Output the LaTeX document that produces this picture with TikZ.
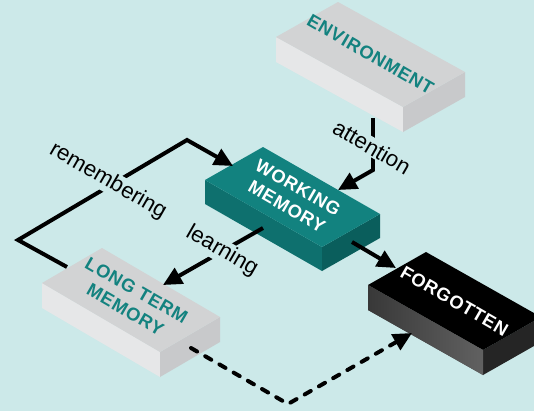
\documentclass[tikz,border=0pt]{standalone}
\usepackage{fontspec}
\setmainfont{Liberation Sans}
\newfontfamily\boxfont[LetterSpace=4]{Liberation Sans}
\usetikzlibrary{calc,arrows.meta}
\definecolor{bg}{HTML}{CCE9E9}
\definecolor{tealtext}{HTML}{13827F}
\definecolor{greytop}{HTML}{D2D3D4}
\definecolor{greyleft}{HTML}{E6E7E8}
\definecolor{greyright}{HTML}{C8C9CB}
\definecolor{wmtop}{HTML}{12827F}
\definecolor{wmleft}{HTML}{0E706E}
\definecolor{wmright}{HTML}{0A5E5C}
\definecolor{fgtop}{HTML}{000000}
\definecolor{fgleft}{HTML}{4A4A4C}
\definecolor{fgright}{HTML}{252525}
\begin{document}
\begin{tikzpicture}[x=0.03cm,y=-0.03cm,
    flow/.style={line width=3.4pt,-{Triangle[length=16pt,width=15pt]}},
    dashflow/.style={flow,line cap=round,dash pattern=on 6pt off 8pt},
    toplabel/.style={rotate=-30,align=center,
      font=\fontsize{15.6}{19}\boxfont\bfseries},
    sidelabel/.style={rotate=-30,fill=bg,inner sep=1pt,
      font=\fontsize{19}{22}\selectfont}]
  \useasboundingbox (0,0) rectangle (534,411);
  \clip (0,0) rectangle (534,411);
  \fill[bg] (0,0) rectangle (534,411);
  \foreach \nm/\p/\a/\b/\h/\ct/\cl/\cr in {
    env/{276,37}/{127,70}/{62,-35}/25/greytop/greyleft/greyright,
    wm/{205,180}/{117,67}/{58,-33}/24/wmtop/wmleft/wmright,
    ltm/{42,283}/{118,69}/{60,-35}/25/greytop/greyleft/greyright,
    fg/{368,285}/{115,65}/{58,-33}/25/fgtop/fgleft/fgright}{
    \coordinate (\nm-l) at (\p);
    \coordinate (\nm-f) at ($(\nm-l)+(\a)$);
    \coordinate (\nm-t) at ($(\nm-l)+(\b)$);
    \coordinate (\nm-r) at ($(\nm-f)+(\b)$);
    \coordinate (\nm-c) at ($(\nm-l)!0.5!(\nm-r)$);
    \fill[\cl] (\nm-l) -- (\nm-f) -- ++(0,\h) -- ($(\nm-l)+(0,\h)$) -- cycle;
    \fill[\cr] (\nm-f) -- (\nm-r) -- ++(0,\h) -- ($(\nm-f)+(0,\h)$) -- cycle;
    \fill[\ct] (\nm-l) -- (\nm-t) -- (\nm-r) -- (\nm-f) -- cycle;
  }
  \shade[left color=black!78,right color=black!62]
    (fg-l) -- (fg-f) -- ++(0,25) -- ($(fg-l)+(0,25)$) -- cycle;

  \node[toplabel,text=tealtext] (env-text) at (env-c) {ENVIRONMENT};
  \node[toplabel,text=white] (wm-text) at (wm-c) {WORKING\\MEMORY};
  \node[toplabel,text=tealtext] (ltm-text) at (ltm-c) {LONG TERM\\MEMORY};
  \node[toplabel,text=white] (fg-text) at (fg-c) {FORGOTTEN};

  \coordinate (env-out) at (373,118);
  \coordinate (att-bend) at (373,170);
  \coordinate (wm-att) at (338,190);
  \coordinate (ltm-back) at (67,267);
  \coordinate (rem-left) at (18,240);
  \coordinate (rem-top) at (187,140);
  \coordinate (wm-rem) at (233,166);
  \coordinate (wm-learn) at (263,228);
  \coordinate (ltm-learn) at (163,285);
  \coordinate (wm-out) at (352,242);
  \coordinate (fg-in) at (396,268);
  \coordinate (ltm-out) at (191,348);
  \coordinate (dash-bend) at (288,404);
  \coordinate (fg-dash) at (412,333);

  \draw[flow] (env-out) -- (att-bend) -- (wm-att);
  \draw[flow] (ltm-back) -- (rem-left) -- (rem-top) -- (wm-rem);
  \draw[flow] (wm-learn) -- (ltm-learn);
  \draw[flow] (wm-out) -- (fg-in);
  \draw[dashflow] (ltm-out) -- (dash-bend) -- (fg-dash);

  \node[sidelabel] (att-text) at (372,147) {attention};
  \node[sidelabel] (rem-text) at (108,181) {remembering};
  \node[sidelabel] (learn-text) at (222,251) {learning};
\end{tikzpicture}
\end{document}
